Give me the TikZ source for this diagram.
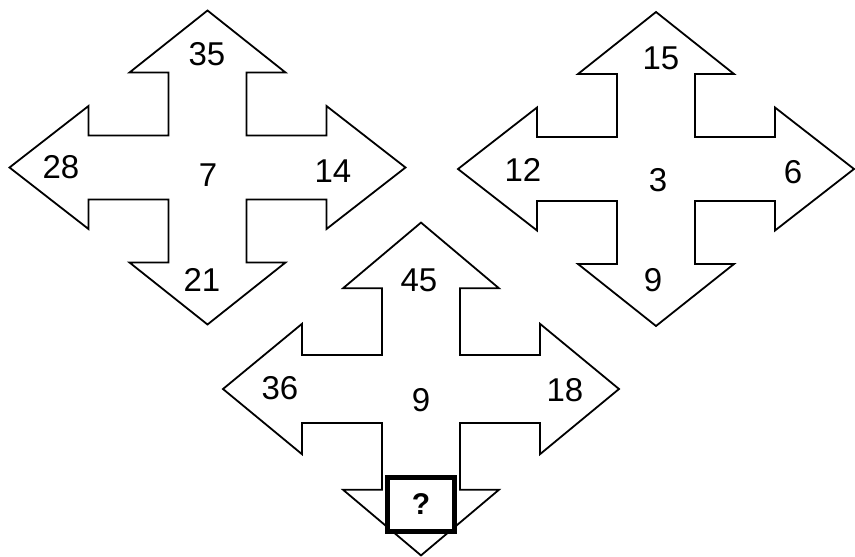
\documentclass[tikz,border=0pt]{standalone}
\usepackage{fontspec}
\setmainfont{Liberation Sans}
\usetikzlibrary{positioning}

\begin{document}
\begin{tikzpicture}[x=1pt, y=-1pt,
  crossline/.style={line width=1.8pt, line join=miter},
  num/.style={inner sep=0pt, font=\fontsize{33}{33}\selectfont},
  qbox/.style={draw, line width=5pt, fill=white, minimum width=67pt,
    minimum height=54pt, inner sep=0pt, font=\fontsize{30}{30}\selectfont\bfseries}]

\useasboundingbox (0,0) rectangle (855,557);

% the three crosses
\foreach \cx/\cy/\ys in {207.5/167.5/1, 656/169/1, 421/389/1.06}
  \draw[crossline, shift={(\cx,\cy)}, yscale=\ys]
    (0,-157) -- (78,-95) -- (39,-95) -- (39,-32) -- (119,-32) -- (119,-61.5) --
    (198,0) -- (119,61.5) -- (119,32) -- (39,32) -- (39,95) -- (78,95) --
    (0,157) -- (-78,95) -- (-39,95) -- (-39,32) -- (-119,32) -- (-119,61.5) --
    (-198,0) -- (-119,-61.5) -- (-119,-32) -- (-39,-32) -- (-39,-95) --
    (-78,-95) -- cycle;

% left cross
\node[num] (top1) at (207,54) {35};
\node[num] (left1) at (61,167) {28};
\node[num] (mid1) at (208,175) {7};
\node[num] (right1) at (333,171) {14};
\node[num] (bot1) at (202,280) {21};

% right cross
\node[num] (top2) at (661,58) {15};
\node[num] (left2) at (523,170) {12};
\node[num] (mid2) at (658,180) {3};
\node[num] (right2) at (793,172) {6};
\node[num] (bot2) at (653,280) {9};

% lower cross
\node[num] (top3) at (419,280) {45};
\node[num] (left3) at (280,388) {36};
\node[num] (mid3) at (421,400) {9};
\node[num] (right3) at (565,390) {18};
\node[qbox] (ask) at (421,504.5) {?};

\end{tikzpicture}
\end{document}
